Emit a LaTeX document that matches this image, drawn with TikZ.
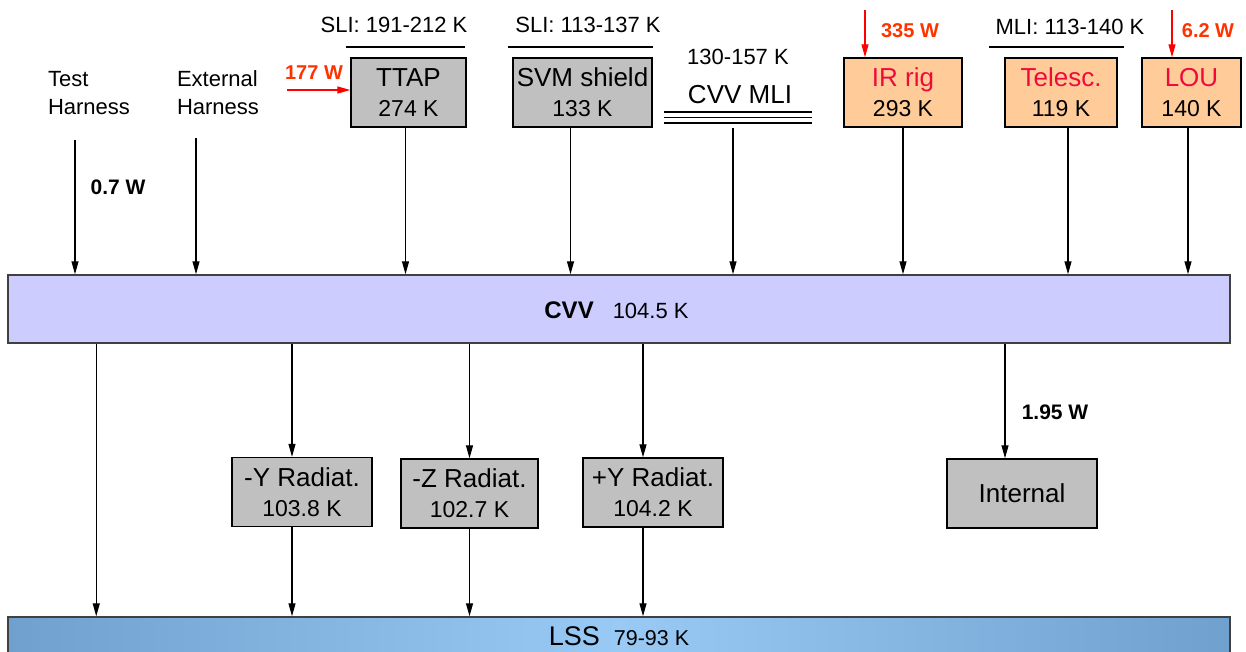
\documentclass[tikz,border=0pt]{standalone}
\usepackage{fontspec}
\setmainfont{Liberation Sans}
\usepackage{tikz}
\usetikzlibrary{positioning, arrows.meta, calc}
\definecolor{boxgray}{RGB}{192,192,192}
\definecolor{rigorange}{RGB}{255,204,153}
\definecolor{cvvblue}{RGB}{204,204,255}
\definecolor{lssedge}{RGB}{112,160,205}
\definecolor{lssmid}{RGB}{152,202,245}
\definecolor{heatred}{RGB}{255,0,0}
\definecolor{heatlabel}{RGB}{255,51,0}
\definecolor{unitred}{RGB}{240,10,60}
\newcommand{\fsz}[2]{\fontsize{#1}{#2}\selectfont}

\begin{document}
\begin{tikzpicture}[
  x=1pt, y=-1pt,
  >={Triangle[length=13pt,width=7pt]},
  unit/.style={
    draw, line width=1.4pt, fill=boxgray, align=center, inner sep=0pt,
    minimum height=69pt, font=\fsz{23}{30}
  },
  hot/.style={unit, fill=rigorange},
  bar/.style={draw=black!75, line width=1.5pt, minimum width=1222pt, inner sep=0pt},
  flow/.style={->, line width=1.2pt},
  heat/.style={->, heatred, line width=1.2pt},
  toplabel/.style={font=\fsz{22}{28}},
  wlabel/.style={font=\fsz{21}{24}\bfseries},
  redlabel/.style={wlabel, text=heatlabel, font=\fsz{20}{24}\bfseries},
  layer/.style={line width=1.4pt}
]
\useasboundingbox (0,0) rectangle (1246,651);

% buses
\node[bar, fill=cvvblue, minimum height=68pt] (cvv) at (619,309) {};
\node (cvvtxt) at (616.5,310)
  {{\fsz{24}{28}\bfseries CVV}\hspace{19pt}{\fsz{22}{24}104.5 K}};
\node[bar, left color=lssedge, right color=lssedge, middle color=lssmid,
  minimum height=38pt] (lss) at (619,636)
  {{\fsz{27}{28}LSS}\hspace{14pt}{\fsz{21.5}{24}79-93 K}};

% upper units
\node[toplabel, align=left] (th) at (89,93) {Test\\Harness};
\node[toplabel, align=left] (eh) at (218,93) {External\\Harness};
\node[unit, minimum width=115pt] (ttap) at (408.5,92.5)
  {{\fsz{26}{30}TTAP}\\274 K};
\node[unit, minimum width=139pt] (svm) at (582.5,92.5)
  {{\fsz{26}{30}SVM shield}\\133 K};
\node[toplabel] (mlit) at (738,57) {130-157 K};
\node[toplabel, font=\fsz{26}{28}] (mli) at (740,95) {CVV MLI};
\node[hot, minimum width=118pt] (irrig) at (903,92.5)
  {{\fsz{26}{30}\color{unitred}IR rig}\\293 K};
\node[hot, minimum width=112pt] (telesc) at (1061,92.5)
  {{\fsz{26}{30}\color{unitred}Telesc.}\\119 K};
\node[hot, minimum width=99pt] (lou) at (1191.5,92.5)
  {{\fsz{26}{30}\color{unitred}LOU}\\140 K};

% insulation layers
\node[toplabel] (sli1) at (394,25) {SLI: 191-212 K};
\node[toplabel] (sli2) at (588,25) {SLI: 113-137 K};
\node[toplabel] (mli2) at (1070,27) {MLI: 113-140 K};
\draw[layer] (346,47) -- (465,47);
\draw[layer] (508,47) -- (653,47);
\draw[layer] (989,47) -- (1124,47);
\foreach \yy in {112,117.5,123}
  \draw[layer] (664,\yy) -- (812,\yy);

% lower units
\node[unit, minimum width=140pt] (yneg) at (302,492)
  {{\fsz{26}{30}-Y Radiat.}\\103.8 K};
\node[unit, minimum width=137pt] (zneg) at (469.5,493.5)
  {{\fsz{26}{30}-Z Radiat.}\\102.7 K};
\node[unit, minimum width=140pt] (ypos) at (653,492.5)
  {{\fsz{26}{30}+Y Radiat.}\\104.2 K};
\node[unit, minimum width=150pt, font=\fsz{26}{30}] (intern) at (1022,493.5) {Internal};

% heat inputs
\coordinate (in177) at (287,90);
\coordinate (in335) at (865,10);
\coordinate (in62) at (1172,10);
\draw[heat] (in177) -- (in177 -| ttap.west);
\draw[heat] (in335) -- (in335 |- irrig.north);
\draw[heat] (in62) -- (in62 |- lou.north);
\node[redlabel] (w177) at (314,73) {177 W};
\node[redlabel] (w335) at (910,31) {335 W};
\node[redlabel] (w62) at (1208,31) {6.2 W};

% flows into CVV
\coordinate (th0) at (75,140);
\coordinate (eh0) at (196,138);
\coordinate (mli0) at (733,128);
\draw[flow] (th0) -- (th0 |- cvv.north);
\draw[flow] (eh0) -- (eh0 |- cvv.north);
\draw[flow] ([xshift=-3pt]ttap.south) -- ([xshift=-3pt]ttap.south |- cvv.north);
\draw[flow] ([xshift=-12pt]svm.south) -- ([xshift=-12pt]svm.south |- cvv.north);
\draw[flow] (mli0) -- (mli0 |- cvv.north);
\draw[flow] (irrig.south) -- (irrig.south |- cvv.north);
\draw[flow] ([xshift=7pt]telesc.south) -- ([xshift=7pt]telesc.south |- cvv.north);
\draw[flow] ([xshift=-3.5pt]lou.south) -- ([xshift=-3.5pt]lou.south |- cvv.north);
\node[wlabel] (w07) at (118,187) {0.7 W};

% flows out of CVV
\draw[flow] ([xshift=89pt]cvv.south west) -- ([xshift=89pt]cvv.south west |- lss.north);
\draw[flow] ([xshift=-10pt]yneg.north |- cvv.south) -- ([xshift=-10pt]yneg.north);
\draw[flow] ([xshift=-10pt]yneg.south) -- ([xshift=-10pt]yneg.south |- lss.north);
\draw[flow] (zneg.north |- cvv.south) -- (zneg.north);
\draw[flow] (zneg.south) -- (zneg.south |- lss.north);
\draw[flow] ([xshift=-10pt]ypos.north |- cvv.south) -- ([xshift=-10pt]ypos.north);
\draw[flow] ([xshift=-10pt]ypos.south) -- ([xshift=-10pt]ypos.south |- lss.north);
\draw[flow] ([xshift=-17pt]intern.north |- cvv.south) -- ([xshift=-17pt]intern.north);
\node[wlabel] (w195) at (1055,412) {1.95 W};
\end{tikzpicture}
\end{document}
